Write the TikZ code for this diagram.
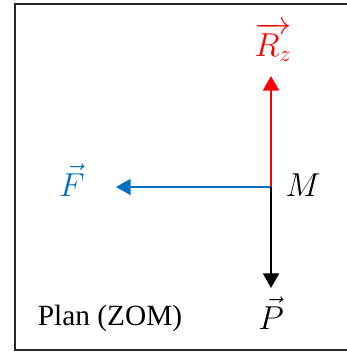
\documentclass[tikz,border=0pt]{standalone}
\usepackage{amsmath}
\usepackage{fontspec}
\setmainfont{Liberation Serif}
\usepackage{xcolor}
\usetikzlibrary{arrows.meta,positioning}
\definecolor{forcered}{HTML}{FF0000}
\definecolor{forceblue}{HTML}{0070C0}

\begin{document}
\begin{tikzpicture}[
    x=0.75pt, y=-0.75pt,
    frame/.style={draw=black!85, line width=1.3pt},
    force/.style={-{Triangle[length=11pt, width=12pt]}, line width=1.5pt},
    label/.style={font=\fontsize{22}{26}\selectfont, inner sep=0pt},
    vlabel/.style={font=\fontsize{27}{30}\selectfont, inner sep=0pt}
]
\useasboundingbox (0,0) rectangle (346,352);

% Frame
\draw[frame] (15,4) rectangle (352,350);

% Point of application
\coordinate (M) at (271,187);
\coordinate (Rtip) at (271,76);
\coordinate (Ftip) at (116,187);
\coordinate (Ptip) at (271,288);

% Forces
\draw[force, forcered] (M) -- (Rtip);
\draw[force, forceblue] (M) -- (Ftip);
\draw[force, black] (M) -- (Ptip);

% Labels
\node[vlabel, text=forcered] (Rz) at (273,42) {$\overrightarrow{R_z}$};
\node[vlabel, text=forceblue] (F) at (72,180) {$\vec{F}$};
\node[vlabel] (Mlab) at (303,185) {$M$};
\node[vlabel] (P) at (271,313) {$\vec{P}$};
\node[label] (plan) at (110,318) {Plan (ZOM)};

\end{tikzpicture}
\end{document}
